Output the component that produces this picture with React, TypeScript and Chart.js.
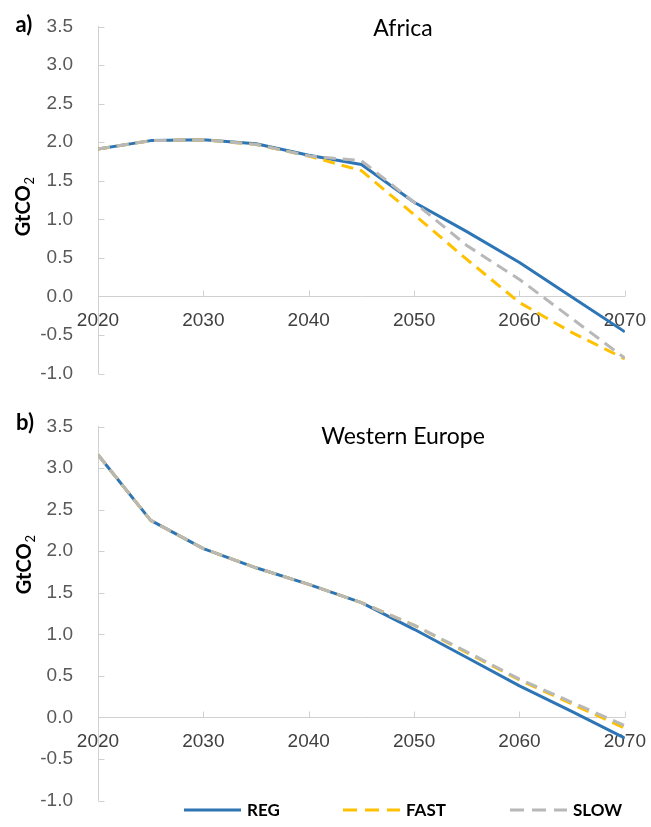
import React, { useEffect, useRef } from "react";
import { Chart, registerables } from "chart.js";

Chart.register(...registerables);

// ---------- data ----------
const years = [2020, 2025, 2030, 2035, 2040, 2045, 2050, 2055, 2060, 2065, 2070];
const seriesNames = ["REG", "FAST", "SLOW"];

const africaREG = [1.91, 2.02, 2.03, 1.98, 1.83, 1.71, 1.22, 0.84, 0.44, -0.01, -0.46];
const africaFAST = [1.91, 2.02, 2.03, 1.97, 1.82, 1.63, 1.06, 0.48, -0.08, -0.47, -0.81];
const africaSLOW = [1.91, 2.02, 2.03, 1.97, 1.82, 1.76, 1.22, 0.66, 0.22, -0.29, -0.8];

const europeREG = [3.16, 2.37, 2.03, 1.8, 1.6, 1.38, 1.06, 0.72, 0.38, 0.07, -0.25];
const europeFAST = [3.16, 2.37, 2.03, 1.8, 1.6, 1.38, 1.11, 0.78, 0.45, 0.16, -0.13];
const europeSLOW = [3.16, 2.37, 2.03, 1.8, 1.6, 1.38, 1.11, 0.79, 0.46, 0.18, -0.1];

const yMin = -1.0;
const yMax = 3.5;
const yStep = 0.5;
const xStep = 10;

// ---------- styles ----------
const COLORS = ["#2e75b6", "#ffc000", "#b8b8b8"];
const DASHES: number[][] = [[], [12, 7], [12, 7]];
const AXIS_COLOR = "#d0d0d0";

const decorPlugin = {
  id: "panelDecor",
  beforeDatasetsDraw(chart: any) {
    const ctx = chart.ctx;
    const xs = chart.scales.x;
    const ys = chart.scales.y;
    const zero = Math.round(ys.getPixelForValue(0)) + 0.5;
    ctx.save();
    ctx.strokeStyle = AXIS_COLOR;
    ctx.lineWidth = 1;
    ctx.beginPath();
    xs.ticks.forEach((t: any) => {
      const px = Math.round(xs.getPixelForValue(t.value)) + 0.5;
      ctx.moveTo(px, zero);
      ctx.lineTo(px, zero - 6);
    });
    const left = Math.round(ys.right) + 0.5;
    ys.ticks.forEach((t: any) => {
      const py = Math.round(ys.getPixelForValue(t.value)) + 0.5;
      ctx.moveTo(left, py);
      ctx.lineTo(left + 6, py);
    });
    ctx.stroke();
    ctx.restore();
  },
  afterDraw(chart: any, _args: any, opts: any) {
    const ctx = chart.ctx;
    ctx.save();
    // panel letter
    ctx.fillStyle = "#000";
    ctx.font = "bold 22px Lato";
    ctx.textAlign = "center";
    ctx.textBaseline = "middle";
    ctx.fillText(opts.letter, opts.letterX, opts.letterY);
    // title
    ctx.font = "23px Lato";
    ctx.fillText(opts.title, opts.titleX, opts.titleY);
    // y title with subscript
    ctx.save();
    ctx.translate(opts.yTitleX, opts.yTitleY);
    ctx.rotate(-Math.PI / 2);
    ctx.textAlign = "left";
    ctx.textBaseline = "alphabetic";
    ctx.font = "bold 20px Lato";
    const w1 = ctx.measureText("GtCO").width;
    ctx.font = "13px Lato";
    const w2 = ctx.measureText("2").width;
    const start = -(w1 + w2) / 2;
    ctx.font = "bold 20px Lato";
    ctx.fillText("GtCO", start, 0);
    ctx.font = "13px Lato";
    ctx.fillText("2", start + w1 + 1, 4);
    ctx.restore();
    // legend
    if (opts.legend) {
      const lg = opts.legend;
      chart.data.datasets.forEach((ds: any, i: number) => {
        const x0 = lg.xs[i];
        ctx.save();
        ctx.strokeStyle = ds.borderColor;
        ctx.lineWidth = 3;
        ctx.setLineDash(i === 0 ? [] : [14, 8]);
        ctx.beginPath();
        ctx.moveTo(x0, lg.y);
        ctx.lineTo(x0 + 57, lg.y);
        ctx.stroke();
        ctx.restore();
        ctx.fillStyle = "#000";
        ctx.font = "bold 17px Lato";
        ctx.textAlign = "left";
        ctx.textBaseline = "middle";
        ctx.fillText(ds.label, x0 + 63, lg.y + 1);
      });
    }
    ctx.restore();
  },
};

function makeConfig(series: number[][], pad: { top: number; bottom: number }, decor: any): any {
  return {
    type: "line",
    data: {
      datasets: series.map((vals, i) => ({
        label: seriesNames[i],
        data: years.map((x, j) => ({ x, y: vals[j] })),
        borderColor: COLORS[i],
        backgroundColor: COLORS[i],
        borderWidth: 3,
        borderDash: DASHES[i],
        order: 2 - i,
        fill: false,
      })),
    },
    options: {
      responsive: false,
      animation: false,
      events: [],
      layout: { padding: { top: pad.top, bottom: pad.bottom, left: 0, right: 23 } },
      elements: {
        point: { radius: 0, hoverRadius: 0 },
        line: { tension: 0, borderCapStyle: "butt", borderJoinStyle: "round" },
      },
      plugins: {
        legend: { display: false },
        tooltip: { enabled: false },
        title: { display: false },
        panelDecor: decor,
      },
      scales: {
        x: {
          type: "linear",
          min: years[0],
          max: years[years.length - 1],
          position: { y: 0 },
          afterFit: (s: any) => {
            s.height = 0;
          },
          grid: { display: false },
          border: { display: true, color: AXIS_COLOR, width: 1 },
          ticks: {
            stepSize: xStep,
            autoSkip: false,
            maxRotation: 0,
            padding: 5,
            color: "#404040",
            font: { family: "Liberation Sans", size: 19 },
            callback: (v: any) => String(v),
          },
        },
        y: {
          type: "linear",
          position: "left",
          min: yMin,
          max: yMax,
          afterFit: (s: any) => {
            s.width = 98;
          },
          grid: { display: false },
          border: { display: true, color: AXIS_COLOR, width: 1 },
          ticks: {
            stepSize: yStep,
            padding: 17,
            color: "#595959",
            font: { family: "Liberation Sans", size: 19, lineHeight: 1 },
            callback: (v: any) => Number(v).toFixed(1),
          },
        },
      },
    },
    plugins: [decorPlugin],
  };
}

function Panel(props: { top: number; height: number; series: number[][]; pad: { top: number; bottom: number }; decor: any }) {
  const ref = useRef<HTMLCanvasElement | null>(null);
  useEffect(() => {
    if (!ref.current) return;
    const chart = new Chart(ref.current, makeConfig(props.series, props.pad, props.decor));
    return () => chart.destroy();
  }, []);
  return (
    <canvas
      ref={ref}
      width={651}
      height={props.height}
      style={{ position: "absolute", left: 0, top: props.top, width: 651, height: props.height }}
    />
  );
}

export default function App() {
  return (
    <div style={{ position: "absolute", left: 0, top: 0, width: 651, height: 827, overflow: "hidden", background: "#fff" }}>
      <Panel
        top={0}
        height={400}
        series={[africaREG, africaFAST, africaSLOW]}
        pad={{ top: 19, bottom: 24 }}
        decor={{ letter: "a)", letterX: 24, letterY: 25, title: "Africa", titleX: 403, titleY: 29, yTitleX: 30, yTitleY: 207 }}
      />
      <Panel
        top={400}
        height={427}
        series={[europeREG, europeFAST, europeSLOW]}
        pad={{ top: 23, bottom: 10 }}
        decor={{
          letter: "b)",
          letterX: 25,
          letterY: 23,
          title: "Western Europe",
          titleX: 403,
          titleY: 37,
          yTitleX: 31,
          yTitleY: 165,
          legend: { y: 410, xs: [184, 343, 510] },
        }}
      />
    </div>
  );
}
